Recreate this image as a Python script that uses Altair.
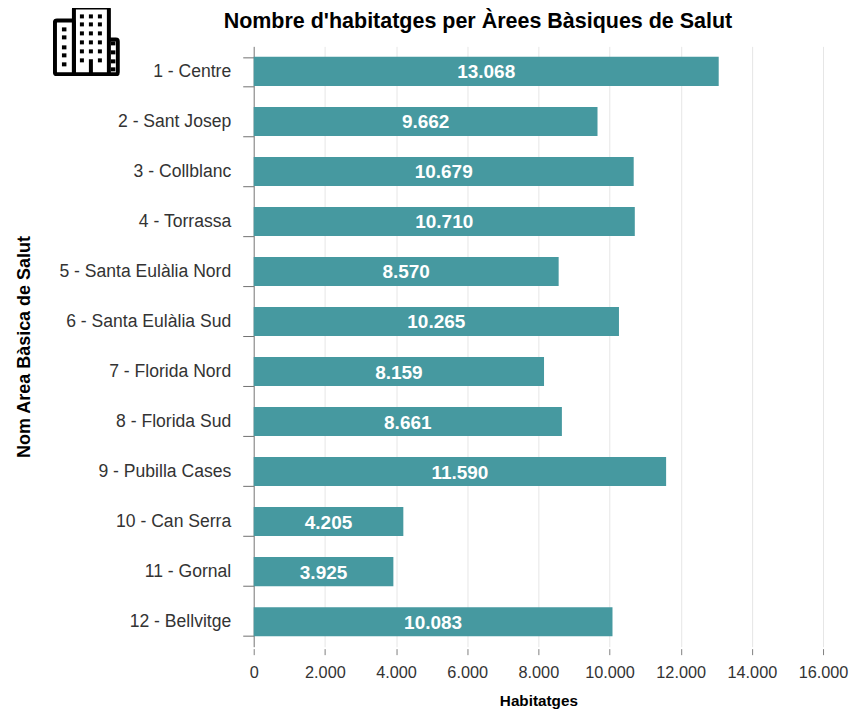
import urllib.parse
import altair as alt
import pandas as pd

areas = ["1 - Centre", "2 - Sant Josep", "3 - Collblanc", "4 - Torrassa", "5 - Santa Eulàlia Nord",
         "6 - Santa Eulàlia Sud", "7 - Florida Nord", "8 - Florida Sud", "9 - Pubilla Cases",
         "10 - Can Serra", "11 - Gornal", "12 - Bellvitge"]
habitatges = [13068, 9662, 10679, 10710, 8570, 10265, 8159, 8661, 11590, 4205, 3925, 10083]
x_ticks = [0, 2000, 4000, 6000, 8000, 10000, 12000, 14000, 16000]
title_text = "Nombre d'habitatges per Àrees Bàsiques de Salut"

df = pd.DataFrame({"area": areas, "hab": habitatges})

dots = ""
for cy in (11, 19, 28, 37, 46, 55):
    for cx in (29, 38, 47):
        if cy == 55 and cx == 38:
            continue
        dots += f'<rect x="{cx - 2}" y="{cy - 2}" width="4" height="4"/>'
for cy in (24, 32, 42, 50, 59):
    dots += f'<rect x="9" y="{cy - 2}" width="4.5" height="4"/>'
for cy in (38, 47, 56, 64):
    dots += f'<rect x="58" y="{cy - 2}" width="4.5" height="4"/>'
icon = ('<svg xmlns="http://www.w3.org/2000/svg" viewBox="0 0 67 71" width="67" height="71" preserveAspectRatio="none">'
        '<g fill="none" stroke="#000" stroke-width="4" stroke-linejoin="round">'
        '<rect x="21" y="2" width="35" height="67" rx="2"/>'
        '<rect x="2" y="15" width="19" height="54" rx="2"/>'
        '<path d="M56 34h7a2 2 0 0 1 2 2v31a2 2 0 0 1-2 2h-7"/>'
        '<path d="M38 69v-15"/></g>'
        f'<g fill="#000">{dots}</g></svg>')
icon_url = "data:image/svg+xml," + urllib.parse.quote(icon)

font = "Liberation Sans"
y = alt.Y("area:N", sort=areas, title="Nom Area Bàsica de Salut",
          scale=alt.Scale(paddingInner=0.42, paddingOuter=0.21),
          axis=alt.Axis(tickSize=11, tickBand="extent", domainColor="#808080", tickColor="#707070",
                        labelFont=font, labelFontSize=17.6, labelColor="#333333", labelPadding=12,
                        titleFont=font, titleFontSize=18, titleFontWeight="bold", titleColor="#000000",
                        titlePadding=25, grid=False))


def x_enc(field):
    return alt.X(field, title="Habitatges",
                 scale=alt.Scale(domain=[0, 16000], nice=False),
                 axis=alt.Axis(values=x_ticks, labelExpr="replace(format(datum.value, ','), ',', '.')",
                               domain=False, tickSize=6, offset=2, tickColor="#808080", labelFlush=False,
                               grid=True, gridColor="#e6e6e6", gridWidth=1,
                               labelFont=font, labelFontSize=16.3, labelColor="#333333", labelPadding=10,
                               titleFont=font, titleFontSize=15.3, titleFontWeight="bold", titleColor="#000000",
                               titlePadding=13))


bars = alt.Chart(df).mark_bar(color="#4699a0").encode(x=x_enc("hab:Q"), y=y)
labels = (alt.Chart(df)
          .transform_calculate(lbl="replace(format(datum.hab, ','), ',', '.')", mid="datum.hab / 2")
          .mark_text(color="white", font=font, fontSize=19, fontWeight="bold", align="center", baseline="middle", dy=1)
          .encode(x=x_enc("mid:Q"), y=y, text="lbl:N"))
logo = (alt.Chart(pd.DataFrame({"u": [icon_url]}))
        .mark_image(width=67, height=71, align="left", baseline="top", aspect=False)
        .encode(url="u:N", x=alt.value(-201), y=alt.value(-41)))
title = (alt.Chart(pd.DataFrame({"t": [title_text]}))
         .mark_text(font=font, fontSize=21.5, fontWeight="bold", color="#000000", align="center", baseline="middle")
         .encode(text="t:N", x=alt.value(224.5), y=alt.value(-24)))

chart = (alt.layer(bars, labels, logo, title)
         .properties(width=570, height=601,
                     autosize=alt.AutoSizeParams(type="none"),
                     padding={"left": 246, "top": 38, "right": 29, "bottom": 62})
         .configure_view(stroke=None))
chart.save("out.html", embed_options={"renderer": "svg", "actions": False})
